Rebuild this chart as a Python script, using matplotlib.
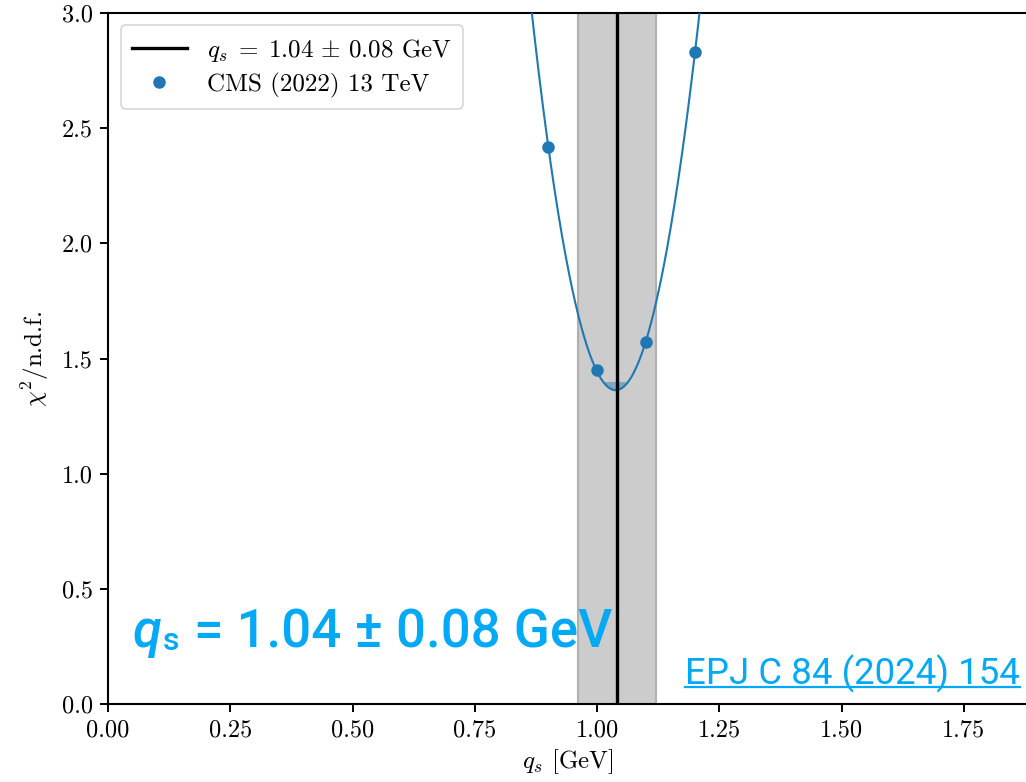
import numpy as np
import matplotlib
matplotlib.use("Agg")
import matplotlib.pyplot as plt

# data
qs_points = [0.90, 1.00, 1.10, 1.20]
chi2_points = [2.42, 1.45, 1.57, 2.83]
qs_best = 1.04
qs_err = 0.08
chi2_band_top = 1.40

plt.rcParams['mathtext.fontset'] = 'cm'
plt.rcParams['font.family'] = ['cmr10', 'DejaVu Serif']
plt.rcParams['axes.formatter.use_mathtext'] = True

fig = plt.figure(figsize=(10.26, 7.82), dpi=100)
ax = fig.add_axes([0.1053, 0.0997, 0.8957, 0.8837])

# quadratic fit to the points
coef = np.polyfit(qs_points, chi2_points, 2)
xs = np.linspace(0.80, 1.30, 400)
ys = np.polyval(coef, xs)

ax.axvspan(qs_best - qs_err, qs_best + qs_err, facecolor='#cccccc',
           edgecolor='#b0b0b0', linewidth=1.5, zorder=1)
ax.fill_between(xs, ys, chi2_band_top, where=ys <= chi2_band_top,
                color='#1f77b4', alpha=0.45, linewidth=0, zorder=2)
ax.plot(xs, ys, color='#1f77b4', linewidth=1.5, zorder=3)
ax.axvline(qs_best, color='black', linewidth=2.4, zorder=4,
           label=r'$q_s \;=\; 1.04 \,\pm\, 0.08$ GeV')
ax.plot(qs_points, chi2_points, 'o', color='#1f77b4', markersize=8,
        zorder=5, label='CMS (2022) 13 TeV')

ax.set_xlim(0, 1.879)
ax.set_ylim(0, 3.0)
ax.set_xticks([0, 0.25, 0.5, 0.75, 1.0, 1.25, 1.5, 1.75])
ax.set_xticklabels(['0.00', '0.25', '0.50', '0.75', '1.00', '1.25', '1.50', '1.75'])
ax.set_yticks([0, 0.5, 1.0, 1.5, 2.0, 2.5, 3.0])
ax.set_yticklabels(['0.0', '0.5', '1.0', '1.5', '2.0', '2.5', '3.0'])
ax.tick_params(labelsize=17.5, width=1.4, length=6, pad=5)
for s in ['left', 'bottom', 'top']:
    ax.spines[s].set_linewidth(1.5)
ax.spines['right'].set_visible(False)
ax.set_xlabel(r'$q_s$ [GeV]', fontsize=18, labelpad=4)
ax.set_ylabel(r'$\chi^2$/n.d.f.', fontsize=18, labelpad=8)

leg = ax.legend(loc='upper left', fontsize=18, frameon=True, handlelength=2.2,
                borderpad=0.45, labelspacing=0.35, handletextpad=0.8,
                bbox_to_anchor=(0.0, 1.0))
leg.get_frame().set_edgecolor('#cccccc')
leg.get_frame().set_linewidth(1.2)

blue = '#03a9f4'
ax.text(0.051, 0.2475, 'q', fontsize=38, fontweight='medium', style='italic',
        family='Roboto', color=blue, va='baseline', zorder=6)
ax.text(0.1126, 0.234, 's', fontsize=23, fontweight='medium', family='Roboto',
        color=blue, va='baseline', zorder=6)
ax.text(0.176, 0.2475, '= 1.04 ± 0.08 GeV', fontsize=38, fontweight='medium',
        family='Roboto', color=blue, va='baseline', zorder=6)

t = fig.text(0.9942, 0.1253, 'EPJ C 84 (2024) 154', fontsize=26.4, family='Roboto',
             color=blue, ha='right', va='baseline')
fig.canvas.draw()
bb = t.get_window_extent()
fw, fh = fig.bbox.width, fig.bbox.height
y_ul = (782 - 687) / fh
fig.add_artist(plt.Line2D([bb.x0 / fw, bb.x1 / fw], [y_ul, y_ul],
                          color=blue, linewidth=1.6, transform=fig.transFigure))

fig.savefig('out.png', dpi=100)
